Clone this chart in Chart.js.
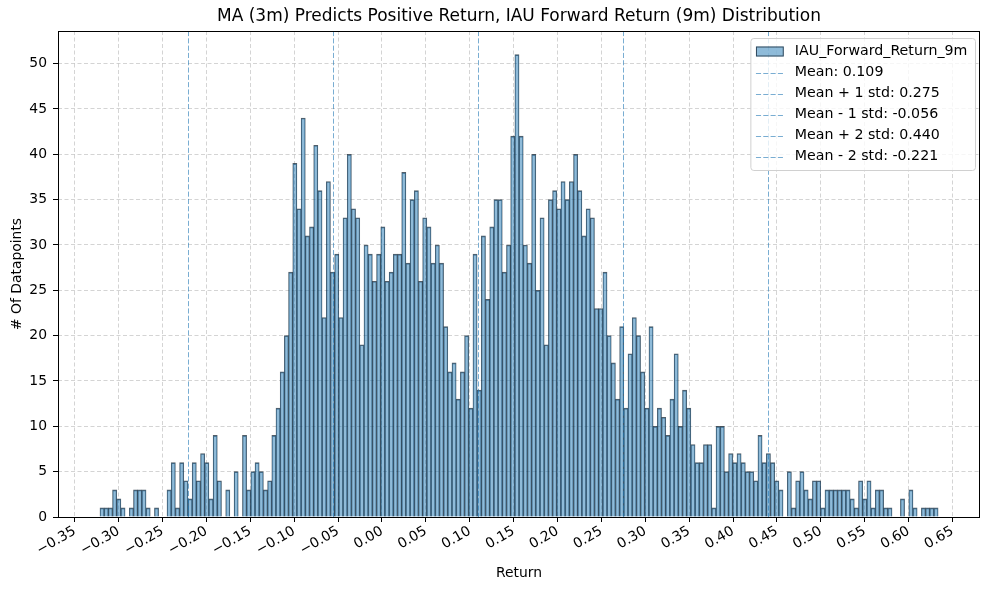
<!DOCTYPE html>
<html>
<head>
<meta charset="utf-8">
<title>IAU Forward Return (9m) Distribution</title>
<script src="https://cdn.jsdelivr.net/npm/chart.js@4.4.1/dist/chart.umd.min.js"></script>
<style>
  body { margin: 0; background: #fff; }
  #wrap { width: 990px; height: 590px; }
</style>
</head>
<body>
<div id="wrap"><canvas id="graphCanvas" width="990" height="590"></canvas></div>
<script>
// histogram counts, 200 bins
var counts = [
  1,1,1,3,2,1,0,1,3,3,
  3,1,0,1,0,0,3,6,1,6,
  4,2,6,4,7,6,2,9,4,0,
  3,0,5,0,9,3,5,6,5,3,
  4,9,12,16,20,27,39,34,44,31,
  32,41,36,22,37,27,29,22,33,40,
  34,33,19,30,29,26,29,32,26,27,
  29,29,38,28,35,36,26,33,32,28,
  30,28,21,16,17,13,16,20,12,29,
  14,31,24,32,35,35,27,30,42,51,
  42,30,28,40,25,33,19,35,36,34,
  37,35,37,40,36,31,34,33,23,23,
  27,20,17,13,21,12,18,22,20,16,
  12,21,10,12,11,9,13,18,10,14,
  12,8,6,6,8,8,1,10,10,5,
  7,6,7,6,5,5,4,9,6,7,
  6,4,3,0,5,1,4,5,3,2,
  4,4,1,3,3,3,3,3,3,2,
  1,4,2,4,1,3,3,1,1,0,
  0,2,0,3,1,0,1,1,1,1
];
var histRange = [-0.3213, 0.6336];   // first / last bin edge
var xTicks = [-0.35,-0.30,-0.25,-0.20,-0.15,-0.10,-0.05,0.00,0.05,0.10,0.15,0.20,0.25,0.30,0.35,0.40,0.45,0.50,0.55,0.60,0.65];
var yTicks = [0,5,10,15,20,25,30,35,40,45,50];
var statValues = [0.109, 0.275, -0.056, 0.440, -0.221];
var statLabels = ['Mean: 0.109','Mean + 1 std: 0.275','Mean - 1 std: -0.056','Mean + 2 std: 0.440','Mean - 2 std: -0.221'];
var seriesName = 'IAU_Forward_Return_9m';
var chartTitle = 'MA (3m) Predicts Positive Return, IAU Forward Return (9m) Distribution';

var FONT = "'DejaVu Sans', 'Liberation Sans', sans-serif";
var barFill = 'rgba(31,119,180,0.5)';
var barEdge = 'rgba(10,25,40,0.7)';
var statColor = 'rgba(31,119,180,0.6)';
var gridColor = 'rgba(176,176,176,0.55)';

var binWidth = (histRange[1] - histRange[0]) / counts.length;
var barData = [];
for (var i = 0; i < counts.length; i++) {
  barData.push({ x: histRange[0] + (i + 0.5) * binWidth, y: counts[i] });
}

function fmtTick(v) {
  if (Math.abs(v) < 1e-9) return '0.00';
  return (v < 0 ? '\u2212' : '') + Math.abs(v).toFixed(2);
}

// dashed mean / std lines
var statLines = {
  id: 'statLines',
  afterDatasetsDraw: function (chart) {
    var ctx = chart.ctx, a = chart.chartArea, xs = chart.scales.x;
    ctx.save();
    ctx.beginPath();
    ctx.rect(a.left, a.top, a.right - a.left, a.bottom - a.top);
    ctx.clip();
    ctx.strokeStyle = statColor;
    ctx.lineWidth = 1;
    ctx.setLineDash([5.1, 2.2]);
    for (var k = 0; k < statValues.length; k++) {
      var px = Math.round(xs.getPixelForValue(statValues[k])) + 0.5;
      ctx.beginPath();
      ctx.moveTo(px, a.top);
      ctx.lineTo(px, a.bottom);
      ctx.stroke();
    }
    ctx.restore();
  }
};

// box around the axes, title over the axes, legend
var frameAndLegend = {
  id: 'frameAndLegend',
  afterDraw: function (chart) {
    var ctx = chart.ctx, a = chart.chartArea;
    ctx.save();
    ctx.strokeStyle = '#000';
    ctx.lineWidth = 1;
    ctx.setLineDash([]);
    ctx.strokeRect(a.left + 0.5, a.top + 0.5, a.right - a.left - 1, a.bottom - a.top);

    // title centred on the axes like matplotlib
    ctx.fillStyle = '#000';
    ctx.font = '17px ' + FONT;
    ctx.textAlign = 'center';
    ctx.textBaseline = 'middle';
    ctx.fillText(chartTitle, (a.left + a.right) / 2, 17);

    // legend
    ctx.font = '14.2px ' + FONT;
    var labels = [seriesName].concat(statLabels);
    var tw = 0;
    labels.forEach(function (t) { tw = Math.max(tw, ctx.measureText(t).width); });
    var pad = 5.6, handle = 27.8, gap = 11.1, rowH = 21;
    var w = pad + handle + gap + tw + pad + 2;
    var h = 12.7 + (labels.length - 1) * rowH + 14.3;
    var bx = a.right - 5 - w, by = a.top + 7;
    ctx.beginPath();
    ctx.roundRect(bx + 0.5, by + 0.5, w, h, 3);
    ctx.fillStyle = 'rgba(255,255,255,0.8)';
    ctx.fill();
    ctx.strokeStyle = '#d0d0d0';
    ctx.stroke();

    var hx = bx + pad, tx = hx + handle + gap;
    ctx.textBaseline = 'middle';
    ctx.textAlign = 'left';
    for (var k = 0; k < labels.length; k++) {
      var cy = by + 13.5 + k * rowH;
      if (k === 0) {
        ctx.fillStyle = barFill;
        ctx.fillRect(hx, cy - 5, handle, 10);
        ctx.strokeStyle = barEdge;
        ctx.strokeRect(hx + 0.5, cy - 4.5, handle - 1, 9);
      } else {
        ctx.strokeStyle = statColor;
        ctx.setLineDash([5.1, 2.2]);
        ctx.beginPath();
        ctx.moveTo(hx, Math.round(cy) + 0.5);
        ctx.lineTo(hx + handle, Math.round(cy) + 0.5);
        ctx.stroke();
        ctx.setLineDash([]);
      }
      ctx.fillStyle = '#000';
      ctx.fillText(labels[k], tx, cy);
    }
    ctx.restore();
  }
};

var graphTarget = document.getElementById('graphCanvas');
window.bar = new Chart(graphTarget, {
  type: 'bar',
  data: {
    datasets: [{
      label: seriesName,
      data: barData,
      backgroundColor: barFill,
      borderColor: barEdge,
      borderWidth: { top: 1, left: 0.6, right: 0.6, bottom: 0 },
      borderSkipped: 'start',
      barPercentage: 1,
      categoryPercentage: 1
    }]
  },
  options: {
    responsive: false,
    animation: false,
    devicePixelRatio: 1,
    layout: { padding: { left: 0, right: 10, top: 31, bottom: 0 } },
    plugins: {
      legend: { display: false },
      tooltip: { enabled: false },
      title: { display: false }
    },
    scales: {
      x: {
        type: 'linear',
        min: -0.3691,
        max: 0.6813,
        offset: false,
        afterBuildTicks: function (axis) {
          axis.ticks = xTicks.map(function (v) { return { value: v }; });
        },
        afterFit: function (axis) { axis.height = 73; },
        ticks: {
          autoSkip: false,
          maxRotation: 30,
          minRotation: 30,
          padding: 1,
          color: '#000',
          font: { family: FONT, size: 13.9 },
          callback: function (v) { return fmtTick(v); }
        },
        grid: { color: gridColor, tickColor: '#000', tickLength: 5, offset: false },
        border: { display: false, dash: [4, 2.5] },
        title: {
          display: true,
          text: 'Return',
          color: '#000',
          font: { family: FONT, size: 13.9 },
          padding: { top: 0, bottom: 8 }
        }
      },
      y: {
        min: 0,
        max: 53.6,
        afterBuildTicks: function (axis) {
          axis.ticks = yTicks.map(function (v) { return { value: v }; });
        },
        afterFit: function (axis) { axis.width = 58; },
        ticks: {
          padding: 6,
          color: '#000',
          font: { family: FONT, size: 13.9 }
        },
        grid: { color: gridColor, tickColor: '#000', tickLength: 5 },
        border: { display: false, dash: [4, 2.5] },
        title: {
          display: true,
          text: '# Of Datapoints',
          color: '#000',
          font: { family: FONT, size: 13.9 },
          padding: { top: 9, bottom: 0 }
        }
      }
    }
  },
  plugins: [statLines, frameAndLegend]
});
</script>
</body>
</html>
